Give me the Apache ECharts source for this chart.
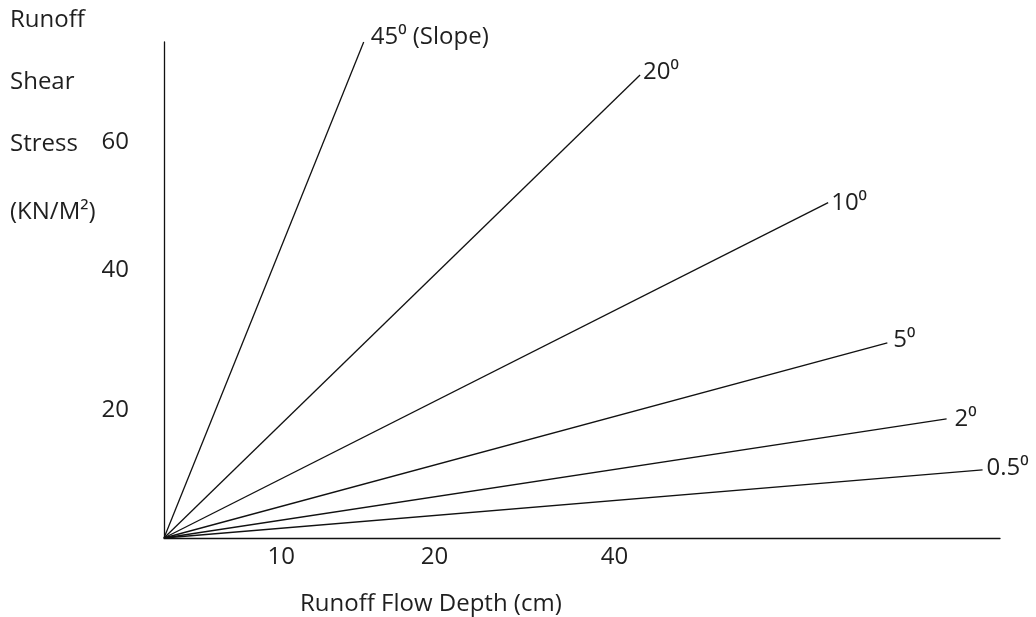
<!DOCTYPE html>
<html>
<head>
<meta charset="utf-8">
<script src="https://cdn.jsdelivr.net/npm/echarts@6/dist/echarts.min.js"></script>
<style>
html,body{margin:0;padding:0;background:#fff;}
#chart{width:1036px;height:617px;}
</style>
</head>
<body>
<div id="chart"></div>
<script>
// Slope lines: each goes from the origin to its end point (flow depth, shear stress)
const slopeNames = ['45⁰ (Slope)', '20⁰', '10⁰', '5⁰', '2⁰', '0.5⁰'];
const slopeEndDepth = [17.2, 41.0, 57.2, 62.3, 67.4, 70.5];
const slopeEndStress = [75.0, 70.0, 50.7, 29.5, 18.0, 10.3];

// Tick labels as they appear (positions)
const xTickLabels = ['10', '20', '40'];
const xTickValues = [10.1, 23.3, 38.8];
const yTickLabels = ['60', '40', '20'];
const yTickValues = [59.9, 40.5, 19.4];

const xTitle = 'Runoff Flow Depth (cm)';
const yTitleLines = ['Runoff', 'Shear', 'Stress', '(KN/M²)'];

const FONT = 'Open Sans';
const FS = 24;
const TXT = '#1f1f1f';

const labelGap = [7, 3, 3, 6, 8, 4];
const labelLift = [-5, -3, 0, -3, 0, -2];

const series = slopeNames.map((name, i) => ({
  type: 'line',
  name: name,
  symbol: 'none',
  silent: true,
  lineStyle: { color: '#111', width: 1.3 },
  data: [[0, 0], [slopeEndDepth[i], slopeEndStress[i]]],
  endLabel: {
    show: true,
    formatter: name,
    color: TXT,
    fontFamily: FONT,
    fontSize: FS,
    distance: labelGap[i],
    offset: [0, labelLift[i]]
  }
}));

const yTitleCenters = [20, 82, 144, 212];
const graphics = yTitleLines.map((t, i) => ({
  type: 'text',
  x: 10,
  y: yTitleCenters[i],
  style: { text: t, fill: TXT, font: FS + 'px "' + FONT + '"', verticalAlign: 'middle' }
}));
graphics.push({
  type: 'text',
  x: 300,
  y: 604,
  style: { text: xTitle, fill: TXT, font: FS + 'px "' + FONT + '"', verticalAlign: 'middle' }
});

const chart = echarts.init(document.getElementById('chart'));
chart.setOption({
  backgroundColor: '#fff',
  animation: false,
  grid: { left: 164, right: 36, top: 42, bottom: 79 },
  xAxis: {
    type: 'value', min: 0, max: 72,
    axisLine: { show: true, onZero: false, lineStyle: { color: '#111', width: 1.3 } },
    axisTick: { show: false },
    splitLine: { show: false },
    axisLabel: {
      customValues: xTickValues,
      formatter: v => xTickLabels[xTickValues.indexOf(v)] ?? '',
      color: TXT, fontFamily: FONT, fontSize: FS, margin: 7
    }
  },
  yAxis: {
    type: 'value', min: 0, max: 75,
    axisLine: { show: true, onZero: false, lineStyle: { color: '#111', width: 1.3 } },
    axisTick: { show: false },
    splitLine: { show: false },
    axisLabel: {
      customValues: yTickValues,
      formatter: v => yTickLabels[yTickValues.indexOf(v)] ?? '',
      color: TXT, fontFamily: FONT, fontSize: FS, margin: 35
    }
  },
  graphic: graphics,
  series: series
});
</script>
</body>
</html>
